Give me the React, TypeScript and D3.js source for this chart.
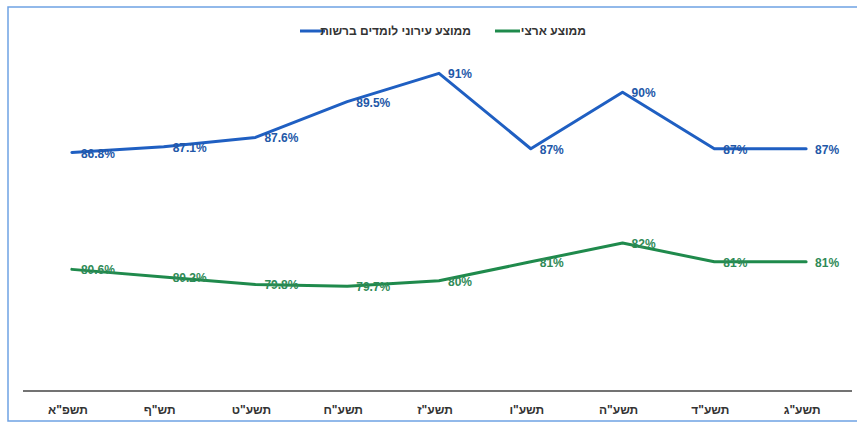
import React, { useRef, useEffect } from 'react';
import * as d3 from 'd3';

// categories, left to right (RTL order: newest year on the left)
const years = ['תשפ"א', 'תש"ף', 'תשע"ט', 'תשע"ח', 'תשע"ז', 'תשע"ו', 'תשע"ה', 'תשע"ד', 'תשע"ג'];
const cityAvg = [86.8, 87.1, 87.6, 89.5, 91, 87, 90, 87, 87];
const cityLabels = ['86.8%', '87.1%', '87.6%', '89.5%', '91%', '87%', '90%', '87%', '87%'];
const nationalAvg = [80.6, 80.2, 79.8, 79.7, 80, 81, 82, 81, 81];
const nationalLabels = ['80.6%', '80.2%', '79.8%', '79.7%', '80%', '81%', '82%', '81%', '81%'];
const seriesNames = ['ממוצע עירוני לומדים ברשות', 'ממוצע ארצי'];

const BLUE = '#1f5fc2';
const GREEN = '#1f8a4c';

const App = () => {
  const svgRef = useRef<SVGSVGElement>(null);
  const width = 857;
  const height = 425;

  useEffect(() => {
    if (!svgRef.current) return;
    const svg = d3.select(svgRef.current);
    svg.selectAll('*').remove();

    const font = '"Liberation Sans", Arial, sans-serif';

    // frame of the scanned chart
    svg.append('path')
      .attr('d', `M${width},7 H8 V421 H${width}`)
      .attr('fill', 'none')
      .attr('stroke', '#6fa2e3')
      .attr('stroke-width', 1.5);

    const x = d3.scalePoint<string>()
      .domain(years)
      .range([26, 852])
      .padding(0.5);

    const y = d3.scaleLinear()
      .domain([74.2, 93.3])
      .range([390, 30]);

    // x axis line
    svg.append('line')
      .attr('x1', 23)
      .attr('x2', 852)
      .attr('y1', 391)
      .attr('y2', 391)
      .attr('stroke', '#444')
      .attr('stroke-width', 1.5);

    // category labels
    svg.selectAll('.cat')
      .data(years)
      .enter()
      .append('text')
      .attr('class', 'cat')
      .attr('x', d => x(d)! - 4)
      .attr('y', 414)
      .attr('text-anchor', 'middle')
      .attr('direction', 'rtl')
      .attr('font-family', font)
      .attr('font-weight', 'bold')
      .attr('font-size', '12px')
      .attr('fill', '#333')
      .text(d => d);

    const line = d3.line<number>()
      .x((_, i) => x(years[i])!)
      .y(d => y(d));

    const series = [
      { values: cityAvg, labels: cityLabels, color: BLUE, text: '#2358a8' },
      { values: nationalAvg, labels: nationalLabels, color: GREEN, text: '#2f8a57' },
    ];

    series.forEach(s => {
      svg.append('path')
        .datum(s.values)
        .attr('d', line)
        .attr('fill', 'none')
        .attr('stroke', s.color)
        .attr('stroke-width', 3)
        .attr('stroke-linejoin', 'round')
        .attr('stroke-linecap', 'round');

      svg.selectAll(null)
        .data(s.values)
        .enter()
        .append('text')
        .attr('x', (_, i) => x(years[i])! + 9)
        .attr('y', d => y(d) + 5)
        .attr('direction', 'ltr')
        .attr('font-family', font)
        .attr('font-weight', 'bold')
        .attr('font-size', '12px')
        .attr('fill', s.text)
        .text((_, i) => s.labels[i]);
    });

    // legend
    const legend = [
      { name: seriesNames[0], color: BLUE, lineX: 300, textX: 471 },
      { name: seriesNames[1], color: GREEN, lineX: 495, textX: 586 },
    ];
    legend.forEach(l => {
      svg.append('line')
        .attr('x1', l.lineX)
        .attr('x2', l.lineX + 25)
        .attr('y1', 31)
        .attr('y2', 31)
        .attr('stroke', l.color)
        .attr('stroke-width', 3);
      svg.append('text')
        .attr('x', l.textX)
        .attr('y', 35)
        .attr('text-anchor', 'start')
        .attr('direction', 'rtl')
        .attr('font-family', font)
        .attr('font-weight', 'bold')
        .attr('font-size', '12px')
        .attr('fill', '#333')
        .text(l.name);
    });
  }, []);

  return (
    <div style={{ width, height }}>
      <style>{'body { margin: 0; }'}</style>
      <svg ref={svgRef} width={width} height={height} style={{ display: 'block', background: '#fff' }}></svg>
    </div>
  );
};

export default App;
